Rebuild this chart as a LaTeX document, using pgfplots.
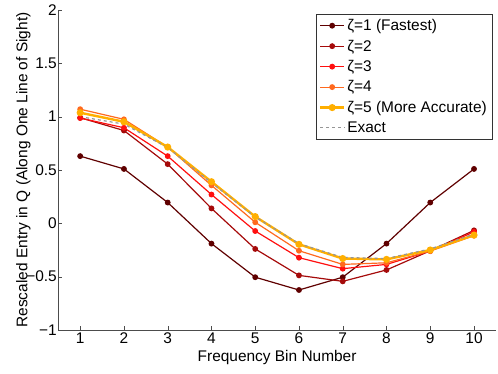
\documentclass[border=0pt]{standalone}
\usepackage{fontspec}
\setmainfont{Liberation Sans}
\usepackage{pgfplots}
\pgfplotsset{compat=1.18}
\usetikzlibrary{calc}
\definecolor{z1}{RGB}{95,0,0}
\definecolor{z2}{RGB}{165,10,10}
\definecolor{z3}{RGB}{255,15,15}
\definecolor{z4}{RGB}{255,105,30}
\definecolor{z5}{RGB}{255,175,0}
\definecolor{exact}{RGB}{150,150,150}
\newcommand{\fs}{\fontsize{15.5}{18}\selectfont}
\begin{document}
\begin{tikzpicture}
  \begin{axis}[
    scale only axis,
    width=437.6bp, height=320bp,
    xmin=0.5, xmax=10.5, ymin=-1, ymax=2,
    xtick={1,...,10},
    ytick={-1,-0.5,0,0.5,1,1.5,2},
    yticklabels={−1,−0.5,0,0.5,1,1.5,2},
    axis x line*=bottom, axis y line*=left,
    axis line style={-, black!70},
    tick align=inside,
    major tick length=4bp,
    tick style={black!70},
    /pgf/number format/assume math mode=true,
    font=\fs,
    tick label style={font=\fs},
    yticklabel style={xshift=2bp},
    xticklabel style={yshift=1bp},
    xlabel={Frequency Bin Number},
    ylabel={Rescaled Entry in Q (Along One Line of Sight)},
    xlabel style={at={(axis description cs:0.5,0)}, anchor=center, yshift=-28bp},
    ylabel style={at={(axis description cs:0,0.5)}, anchor=center, yshift=35bp},
    legend cell align=left,
    legend style={at={(rel axis cs:0.991,0.987)}, anchor=north east,
      font=\fs, draw=black!80, row sep=3.8bp, inner xsep=3bp, inner ysep=3bp},
    legend image code/.code={%
      \draw[mark repeat=2,mark phase=2,#1] plot coordinates {(0bp,0bp) (12bp,0bp) (24bp,0bp)};},
    every axis plot/.append style={mark=*, mark size=2.3bp, line width=1.2pt},
  ]
  \addplot[color=z1, mark options={fill=z1}] coordinates {
    (1,0.63) (2,0.51) (3,0.195) (4,-0.19) (5,-0.505) (6,-0.625) (7,-0.505) (8,-0.19) (9,0.195) (10,0.51)
  };
  \addplot[color=z2, mark options={fill=z2}] coordinates {
    (1,0.99) (2,0.87) (3,0.555) (4,0.14) (5,-0.24) (6,-0.488) (7,-0.544) (8,-0.437) (9,-0.257) (10,-0.066)
  };
  \addplot[color=z3, mark options={fill=z3}] coordinates {
    (1,0.987) (2,0.896) (3,0.63) (4,0.27) (5,-0.072) (6,-0.322) (7,-0.425) (8,-0.385) (9,-0.26) (10,-0.08)
  };
  \addplot[color=z4, mark options={fill=z4}] coordinates {
    (1,1.07) (2,0.975) (3,0.715) (4,0.356) (5,0.01) (6,-0.257) (7,-0.385) (8,-0.37) (9,-0.26) (10,-0.116)
  };
  \addplot[color=z5, mark options={fill=z5}, line width=2.4pt] coordinates {
    (1,1.037) (2,0.952) (3,0.715) (4,0.39) (5,0.063) (6,-0.197) (7,-0.33) (8,-0.338) (9,-0.25) (10,-0.11)
  };
  \addplot[color=exact, dashed, mark=none, line width=1.2pt] coordinates {
    (1,1.0) (2,0.93) (3,0.71) (4,0.38) (5,0.06) (6,-0.19) (7,-0.32) (8,-0.33) (9,-0.24) (10,-0.1)
  };
  \legend{ζ=1 (Fastest),ζ=2,ζ=3,ζ=4,ζ=5 (More Accurate),Exact}
  \end{axis}
  \pgfresetboundingbox
  \useasboundingbox ($(current axis.south west)+(-58.3bp,-44bp)$) rectangle ($(current axis.north east)+(2.1bp,10bp)$);
\end{tikzpicture}
\end{document}
